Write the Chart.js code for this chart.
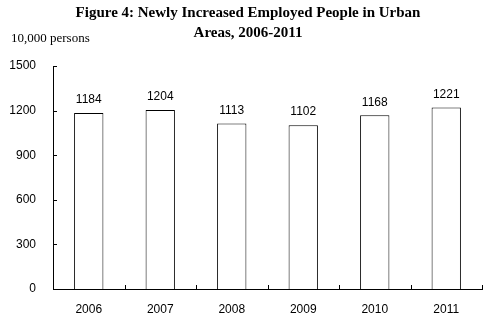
<!DOCTYPE html>
<html>
<head>
<meta charset="utf-8">
<script src="https://cdn.jsdelivr.net/npm/chart.js@4.4.1/dist/chart.umd.min.js"></script>
<style>
  html, body { margin: 0; padding: 0; background: #fff; }
  #wrap { width: 493px; height: 324px; position: relative; }
</style>
</head>
<body>
<div id="wrap"><canvas id="c" width="493" height="324"></canvas></div>
<script>
const years = ['2006', '2007', '2008', '2009', '2010', '2011'];
const employed = [1184, 1204, 1113, 1102, 1168, 1221];
const yTicks = [0, 300, 600, 900, 1200, 1500];
const titleLines = ['Figure 4: Newly Increased Employed People in Urban', 'Areas, 2006-2011'];
const unitLabel = '10,000 persons';

const sans = '"Liberation Sans", Arial, sans-serif';
const serif = '"Liberation Serif", "Times New Roman", serif';

// Heading, unit caption, inward tick marks and value labels
const decorations = {
  id: 'decorations',
  afterDraw(chart) {
    const ctx = chart.ctx;
    const xs = chart.scales.x, ys = chart.scales.y;
    const area = chart.chartArea;
    ctx.save();
    ctx.fillStyle = '#000';
    ctx.textAlign = 'center';
    ctx.textBaseline = 'middle';
    ctx.font = 'bold 15px ' + serif;
    ctx.fillText(titleLines[0], 248, 13);
    ctx.fillText(titleLines[1], 248, 33);
    ctx.textAlign = 'left';
    ctx.font = '13px ' + serif;
    ctx.fillText(unitLabel, 11, 39);

    // tick marks pointing into the plot
    ctx.strokeStyle = '#000';
    ctx.lineWidth = 1;
    ctx.beginPath();
    yTicks.forEach(v => {
      const y = Math.round(ys.getPixelForValue(v)) + 0.5;
      ctx.moveTo(area.left, y);
      ctx.lineTo(area.left + 4, y);
    });
    for (let i = 0; i <= years.length; i++) {
      const x = Math.round(xs.getPixelForValue(i - 0.5)) + 0.5;
      ctx.moveTo(x, area.bottom);
      ctx.lineTo(x, area.bottom - 4);
    }
    ctx.stroke();

    // value labels above bars
    ctx.textAlign = 'center';
    ctx.font = '12px ' + sans;
    const meta = chart.getDatasetMeta(0);
    meta.data.forEach((bar, i) => {
      ctx.fillText(String(employed[i]), bar.x, bar.y - 13);
    });
    ctx.restore();
  }
};

new Chart(document.getElementById('c'), {
  type: 'bar',
  data: {
    labels: years,
    datasets: [{
      data: employed,
      backgroundColor: '#fff',
      borderColor: '#000',
      borderWidth: 1,
      barPercentage: 0.41,
      categoryPercentage: 1
    }]
  },
  options: {
    responsive: false,
    animation: false,
    layout: { padding: { left: 0, right: 11, top: 66, bottom: 0 } },
    plugins: { legend: { display: false }, tooltip: { enabled: false }, title: { display: false } },
    scales: {
      x: {
        offset: true,
        grid: { display: false },
        border: { display: true, color: '#000', width: 1 },
        ticks: { color: '#000', font: { family: sans, size: 12 }, padding: 5, maxRotation: 0 },
        afterFit(s) { s.height = 35; }
      },
      y: {
        min: 0,
        max: 1500,
        afterBuildTicks(s) { s.ticks = yTicks.map(v => ({ value: v })); },
        grid: { display: false },
        border: { display: true, color: '#000', width: 1 },
        ticks: { color: '#000', font: { family: sans, size: 12 }, padding: 9, callback: v => String(v) },
        afterFit(s) { s.width = 53; }
      }
    }
  },
  plugins: [decorations]
});
</script>
</body>
</html>
